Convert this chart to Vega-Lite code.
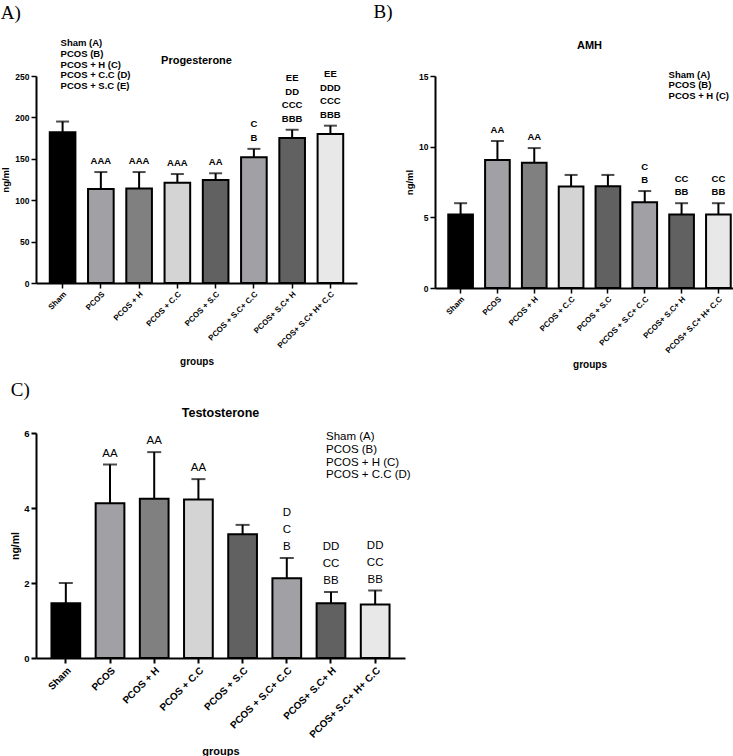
{
  "$schema": "https://vega.github.io/schema/vega-lite/v6.json",
  "background": "white",
  "padding": {"left": 0, "top": 2, "right": 1, "bottom": 2},
  "config": {
    "view": {"stroke": null},
    "font": "Liberation Sans",
    "axis": {"domainColor": "black", "domainWidth": 2, "tickColor": "black", "tickWidth": 1.5, "labelColor": "black", "titleColor": "black", "labelFontWeight": "bold", "titleFontWeight": "bold", "grid": false, "labelFont": "Liberation Sans", "titleFont": "Liberation Sans"},
    "title": {"color": "black", "font": "Liberation Sans"}
  },
  "datasets": {
    "prog": [
      {"group": "Sham", "mean": 182, "upper": 195, "l1": "", "l2": "", "l3": "", "l4": ""},
      {"group": "PCOS", "mean": 113.5, "upper": 134, "l1": "AAA", "l2": "", "l3": "", "l4": ""},
      {"group": "PCOS + H", "mean": 114, "upper": 134, "l1": "AAA", "l2": "", "l3": "", "l4": ""},
      {"group": "PCOS + C.C", "mean": 121, "upper": 131.6, "l1": "AAA", "l2": "", "l3": "", "l4": ""},
      {"group": "PCOS + S.C", "mean": 124.4, "upper": 132.5, "l1": "AA", "l2": "", "l3": "", "l4": ""},
      {"group": "PCOS + S.C+ C.C", "mean": 151.8, "upper": 162, "l1": "B", "l2": "C", "l3": "", "l4": ""},
      {"group": "PCOS+ S.C+ H", "mean": 175, "upper": 185, "l1": "BBB", "l2": "CCC", "l3": "DD", "l4": "EE"},
      {"group": "PCOS+ S.C+ H+ C.C", "mean": 180, "upper": 190, "l1": "BBB", "l2": "CCC", "l3": "DDD", "l4": "EE"}
    ],
    "amh": [
      {"group": "Sham", "mean": 5.2, "upper": 6.0, "l1": "", "l2": ""},
      {"group": "PCOS", "mean": 9.06, "upper": 10.4, "l1": "AA", "l2": ""},
      {"group": "PCOS + H", "mean": 8.87, "upper": 9.9, "l1": "AA", "l2": ""},
      {"group": "PCOS + C.C", "mean": 7.19, "upper": 8.0, "l1": "", "l2": ""},
      {"group": "PCOS + S.C", "mean": 7.2, "upper": 8.0, "l1": "", "l2": ""},
      {"group": "PCOS + S.C+ C.C", "mean": 6.06, "upper": 6.86, "l1": "B", "l2": "C"},
      {"group": "PCOS+ S.C+ H", "mean": 5.2, "upper": 6.0, "l1": "BB", "l2": "CC"},
      {"group": "PCOS+ S.C+ H+ C.C", "mean": 5.2, "upper": 6.0, "l1": "BB", "l2": "CC"}
    ],
    "testo": [
      {"group": "Sham", "mean": 1.46, "upper": 2.0, "l1": "", "l2": "", "l3": ""},
      {"group": "PCOS", "mean": 4.13, "upper": 5.16, "l1": "AA", "l2": "", "l3": ""},
      {"group": "PCOS + H", "mean": 4.25, "upper": 5.49, "l1": "AA", "l2": "", "l3": ""},
      {"group": "PCOS + C.C", "mean": 4.23, "upper": 4.77, "l1": "AA", "l2": "", "l3": ""},
      {"group": "PCOS + S.C", "mean": 3.3, "upper": 3.55, "l1": "", "l2": "", "l3": ""},
      {"group": "PCOS + S.C+ C.C", "mean": 2.13, "upper": 2.67, "l1": "B", "l2": "C", "l3": "D"},
      {"group": "PCOS+ S.C+ H", "mean": 1.46, "upper": 1.76, "l1": "BB", "l2": "CC", "l3": "DD"},
      {"group": "PCOS+ S.C+ H+ C.C", "mean": 1.43, "upper": 1.8, "l1": "BB", "l2": "CC", "l3": "DD"}
    ]
  },
  "spacing": 10,
  "vconcat": [
    {
      "spacing": 16,
      "hconcat": [
        {
          "title": {"text": "A)", "anchor": "start", "font": "Liberation Serif", "fontSize": 19, "fontWeight": "normal", "offset": 15},
          "vconcat": [
            {
              "width": 321,
              "height": 207,
              "title": {"text": "Progesterone", "fontSize": 11, "fontWeight": "bold", "offset": -28},
              "data": {"name": "prog"},
              "encoding": {
                "x": {"field": "group", "type": "nominal", "sort": null, "scale": {"paddingInner": 0.33, "paddingOuter": 0.36},
                  "axis": {"title": "groups", "labelAngle": -45, "labelFontSize": 8, "titleFontSize": 10, "tickSize": 5, "titlePadding": 7}}
              },
              "layer": [
                {
                  "mark": {"type": "bar", "stroke": "black", "strokeWidth": 2},
                  "encoding": {
                    "y": {"field": "mean", "type": "quantitative", "scale": {"domain": [0, 250], "nice": false},
                      "axis": {"title": "ng/ml", "values": [0, 50, 100, 150, 200, 250], "labelFontSize": 8.5, "titleFontSize": 9.5, "tickSize": 5}},
                    "color": {"field": "group", "type": "nominal", "legend": null,
                      "scale": {"domain": ["Sham", "PCOS", "PCOS + H", "PCOS + C.C", "PCOS + S.C", "PCOS + S.C+ C.C", "PCOS+ S.C+ H", "PCOS+ S.C+ H+ C.C"],
                        "range": ["#000000", "#a0a0a5", "#808080", "#d4d4d4", "#616161", "#a0a0a5", "#616161", "#e8e8e8"]}}
                  }
                },
                {
                  "mark": {"type": "rule", "color": "black", "strokeWidth": 2},
                  "encoding": {"y": {"field": "mean", "type": "quantitative", "scale": {"domain": [0, 250], "nice": false}}, "y2": {"field": "upper"}}
                },
                {
                  "mark": {"type": "tick", "color": "black", "thickness": 2, "size": 13, "orient": "horizontal"},
                  "encoding": {"y": {"field": "upper", "type": "quantitative", "scale": {"domain": [0, 250], "nice": false}}}
                },
                {
                  "transform": [{"filter": "datum.l1 !== ''"}],
                  "mark": {"type": "text", "baseline": "bottom", "dy": -6, "fontWeight": "bold", "fontSize": 9.5, "color": "black"},
                  "encoding": {"y": {"field": "upper", "type": "quantitative", "scale": {"domain": [0, 250], "nice": false}}, "text": {"field": "l1"}}
                },
                {
                  "transform": [{"filter": "datum.l2 !== ''"}],
                  "mark": {"type": "text", "baseline": "bottom", "dy": -19.5, "fontWeight": "bold", "fontSize": 9.5, "color": "black"},
                  "encoding": {"y": {"field": "upper", "type": "quantitative", "scale": {"domain": [0, 250], "nice": false}}, "text": {"field": "l2"}}
                },
                {
                  "transform": [{"filter": "datum.l3 !== ''"}],
                  "mark": {"type": "text", "baseline": "bottom", "dy": -33, "fontWeight": "bold", "fontSize": 9.5, "color": "black"},
                  "encoding": {"y": {"field": "upper", "type": "quantitative", "scale": {"domain": [0, 250], "nice": false}}, "text": {"field": "l3"}}
                },
                {
                  "transform": [{"filter": "datum.l4 !== ''"}],
                  "mark": {"type": "text", "baseline": "bottom", "dy": -46.5, "fontWeight": "bold", "fontSize": 9.5, "color": "black"},
                  "encoding": {"y": {"field": "upper", "type": "quantitative", "scale": {"domain": [0, 250], "nice": false}}, "text": {"field": "l4"}}
                },
                {
                  "data": {"values": [{"t": "Sham (A)\nPCOS (B)\nPCOS + H (C)\nPCOS + C.C (D)\nPCOS + S.C (E)"}]},
                  "mark": {"type": "text", "align": "left", "baseline": "top", "lineBreak": "\n", "fontWeight": "bold", "fontSize": 9.5, "lineHeight": 10.8, "dx": -2, "color": "black"},
                  "encoding": {"x": {"datum": "Sham"}, "y": {"datum": 296, "type": "quantitative", "scale": {"domain": [0, 250], "nice": false}}, "text": {"field": "t"}}
                }
              ]
            }
          ]
        },
        {
          "title": {"text": "B)", "anchor": "start", "font": "Liberation Serif", "fontSize": 19, "fontWeight": "normal", "offset": 18, "dx": -31},
          "vconcat": [
            {
              "width": 309,
              "height": 212,
              "title": {"text": "AMH", "fontSize": 11, "fontWeight": "bold", "offset": 19},
              "data": {"name": "amh"},
              "encoding": {
                "x": {"field": "group", "type": "nominal", "sort": null, "scale": {"paddingInner": 0.33, "paddingOuter": 0.36},
                  "axis": {"title": "groups", "labelAngle": -45, "labelFontSize": 8, "titleFontSize": 10, "tickSize": 5, "titlePadding": 5}}
              },
              "layer": [
                {
                  "mark": {"type": "bar", "stroke": "black", "strokeWidth": 2},
                  "encoding": {
                    "y": {"field": "mean", "type": "quantitative", "scale": {"domain": [0, 15], "nice": false},
                      "axis": {"title": "ng/ml", "values": [0, 5, 10, 15], "labelFontSize": 8.5, "titleFontSize": 9.5, "tickSize": 5}},
                    "color": {"field": "group", "type": "nominal", "legend": null,
                      "scale": {"domain": ["Sham", "PCOS", "PCOS + H", "PCOS + C.C", "PCOS + S.C", "PCOS + S.C+ C.C", "PCOS+ S.C+ H", "PCOS+ S.C+ H+ C.C"],
                        "range": ["#000000", "#a0a0a5", "#808080", "#d4d4d4", "#616161", "#a0a0a5", "#616161", "#e8e8e8"]}}
                  }
                },
                {
                  "mark": {"type": "rule", "color": "black", "strokeWidth": 2},
                  "encoding": {"y": {"field": "mean", "type": "quantitative", "scale": {"domain": [0, 15], "nice": false}}, "y2": {"field": "upper"}}
                },
                {
                  "mark": {"type": "tick", "color": "black", "thickness": 2, "size": 13, "orient": "horizontal"},
                  "encoding": {"y": {"field": "upper", "type": "quantitative", "scale": {"domain": [0, 15], "nice": false}}}
                },
                {
                  "transform": [{"filter": "datum.l1 !== ''"}],
                  "mark": {"type": "text", "baseline": "bottom", "dy": -6, "fontWeight": "bold", "fontSize": 9.5, "color": "black"},
                  "encoding": {"y": {"field": "upper", "type": "quantitative", "scale": {"domain": [0, 15], "nice": false}}, "text": {"field": "l1"}}
                },
                {
                  "transform": [{"filter": "datum.l2 !== ''"}],
                  "mark": {"type": "text", "baseline": "bottom", "dy": -19, "fontWeight": "bold", "fontSize": 9.5, "color": "black"},
                  "encoding": {"y": {"field": "upper", "type": "quantitative", "scale": {"domain": [0, 15], "nice": false}}, "text": {"field": "l2"}}
                },
                {
                  "data": {"values": [{"t": "Sham (A)\nPCOS (B)\nPCOS + H (C)"}]},
                  "mark": {"type": "text", "align": "left", "baseline": "top", "lineBreak": "\n", "fontWeight": "bold", "fontSize": 9.5, "lineHeight": 10.5, "dx": -13, "color": "black"},
                  "encoding": {"x": {"datum": "PCOS+ S.C+ H"}, "y": {"datum": 15.45, "type": "quantitative", "scale": {"domain": [0, 15], "nice": false}}, "text": {"field": "t"}}
                }
              ]
            }
          ]
        }
      ]
    },
    {
      "hconcat": [
        {
          "title": {"text": "C)", "anchor": "start", "font": "Liberation Serif", "fontSize": 19, "fontWeight": "normal", "offset": 7},
          "vconcat": [
            {
              "width": 369,
              "height": 225,
              "title": {"text": "Testosterone", "fontSize": 12.5, "fontWeight": "bold", "offset": 9},
              "data": {"name": "testo"},
              "encoding": {
                "x": {"field": "group", "type": "nominal", "sort": null, "scale": {"paddingInner": 0.35, "paddingOuter": 0.35},
                  "axis": {"title": "groups", "labelAngle": -45, "labelFontSize": 10, "titleFontSize": 11, "tickSize": 5, "tickWidth": 2, "titlePadding": 6}}
              },
              "layer": [
                {
                  "mark": {"type": "bar", "stroke": "black", "strokeWidth": 2},
                  "encoding": {
                    "y": {"field": "mean", "type": "quantitative", "scale": {"domain": [0, 6], "nice": false},
                      "axis": {"title": "ng/ml", "values": [0, 2, 4, 6], "labelFontSize": 9.5, "titleFontSize": 10.5, "titlePadding": 3, "tickSize": 5, "tickWidth": 2}},
                    "color": {"field": "group", "type": "nominal", "legend": null,
                      "scale": {"domain": ["Sham", "PCOS", "PCOS + H", "PCOS + C.C", "PCOS + S.C", "PCOS + S.C+ C.C", "PCOS+ S.C+ H", "PCOS+ S.C+ H+ C.C"],
                        "range": ["#000000", "#a0a0a5", "#808080", "#d4d4d4", "#616161", "#a0a0a5", "#616161", "#e8e8e8"]}}
                  }
                },
                {
                  "mark": {"type": "rule", "color": "black", "strokeWidth": 2},
                  "encoding": {"y": {"field": "mean", "type": "quantitative", "scale": {"domain": [0, 6], "nice": false}}, "y2": {"field": "upper"}}
                },
                {
                  "mark": {"type": "tick", "color": "black", "thickness": 2, "size": 14, "orient": "horizontal"},
                  "encoding": {"y": {"field": "upper", "type": "quantitative", "scale": {"domain": [0, 6], "nice": false}}}
                },
                {
                  "transform": [{"filter": "datum.l1 !== ''"}],
                  "mark": {"type": "text", "baseline": "bottom", "dy": -6, "fontWeight": "normal", "fontSize": 11.5, "color": "black"},
                  "encoding": {"y": {"field": "upper", "type": "quantitative", "scale": {"domain": [0, 6], "nice": false}}, "text": {"field": "l1"}}
                },
                {
                  "transform": [{"filter": "datum.l2 !== ''"}],
                  "mark": {"type": "text", "baseline": "bottom", "dy": -23, "fontWeight": "normal", "fontSize": 11.5, "color": "black"},
                  "encoding": {"y": {"field": "upper", "type": "quantitative", "scale": {"domain": [0, 6], "nice": false}}, "text": {"field": "l2"}}
                },
                {
                  "transform": [{"filter": "datum.l3 !== ''"}],
                  "mark": {"type": "text", "baseline": "bottom", "dy": -40, "fontWeight": "normal", "fontSize": 11.5, "color": "black"},
                  "encoding": {"y": {"field": "upper", "type": "quantitative", "scale": {"domain": [0, 6], "nice": false}}, "text": {"field": "l3"}}
                },
                {
                  "data": {"values": [{"t": "Sham (A)\nPCOS (B)\nPCOS + H (C)\nPCOS + C.C (D)"}]},
                  "mark": {"type": "text", "align": "left", "baseline": "top", "lineBreak": "\n", "fontWeight": "normal", "fontSize": 11.5, "lineHeight": 12.7, "dx": -5, "color": "black"},
                  "encoding": {"x": {"datum": "PCOS+ S.C+ H"}, "y": {"datum": 6.05, "type": "quantitative", "scale": {"domain": [0, 6], "nice": false}}, "text": {"field": "t"}}
                }
              ]
            }
          ]
        }
      ]
    }
  ]
}
